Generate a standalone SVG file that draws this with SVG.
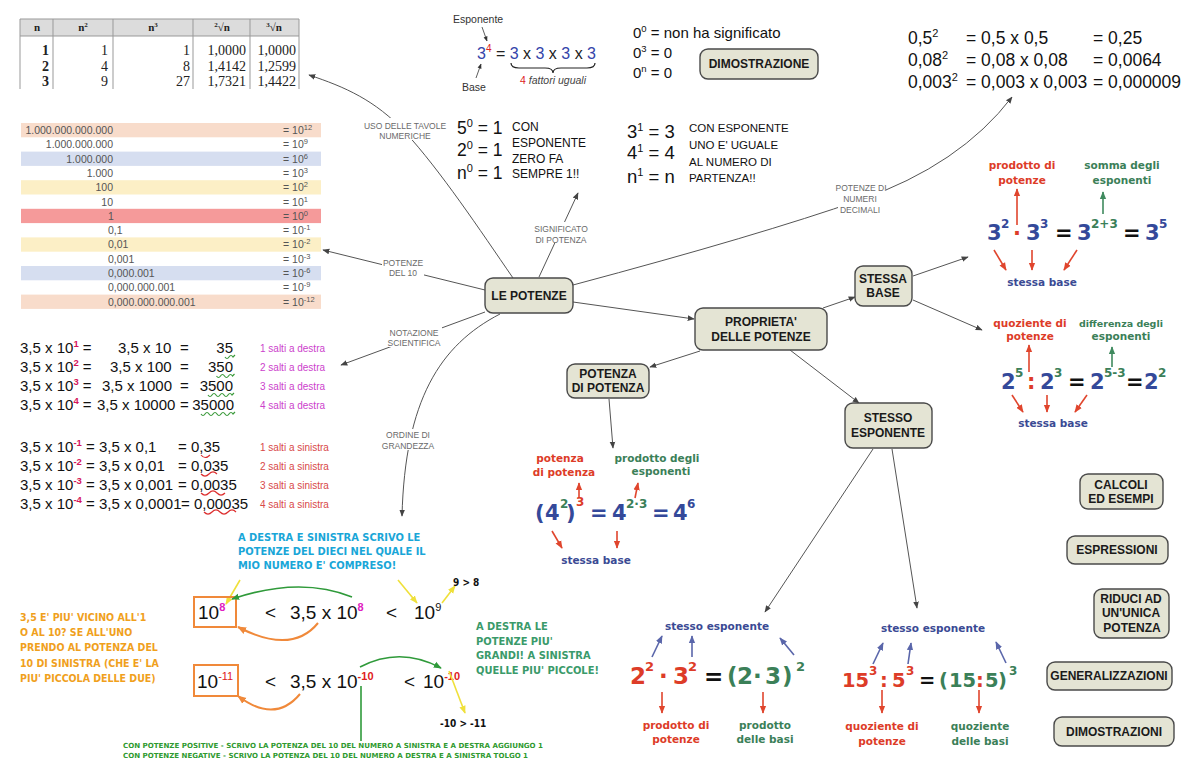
<svg xmlns="http://www.w3.org/2000/svg" width="1200" height="774" viewBox="0 0 1200 774">
<defs>
<style>
.ar{font-family:"Liberation Sans",Arial,sans-serif}
.sf{font-family:"Liberation Serif","Times New Roman",serif}
.vb{font-family:"DejaVu Sans",Verdana,sans-serif;font-weight:bold}
.cm{font-family:"DejaVu Sans Condensed","DejaVu Sans",sans-serif;font-weight:bold}
.node rect{fill:#e4e4d4;stroke:#4a4a4a;stroke-width:1.4}
.node text{font-family:"Liberation Sans",Arial,sans-serif;font-weight:bold;font-size:12px;fill:#1a1a1a;text-anchor:middle}
.con{fill:none;stroke:#555;stroke-width:1}
.lbl{font-family:"Liberation Sans",Arial,sans-serif;font-size:8.5px;fill:#6a6a6a;text-anchor:middle}
.lb{fill:#fff}
.tp{font-family:"Liberation Sans",Arial,sans-serif;font-size:10.5px;fill:#555}
.mid{text-anchor:middle}
.end{text-anchor:end}
.red{fill:#dd3c28}
.grn{fill:#3b8058}
.blu{fill:#3a4a94}
.ra{stroke:#e0452d;stroke-width:1.6;fill:none}
.ga{stroke:#3f8a5e;stroke-width:1.6;fill:none}
.ba{stroke:#5a66aa;stroke-width:1.6;fill:none}
.ya{stroke:#efe03a;stroke-width:1.6;fill:none}
.oa{stroke:#f0893a;stroke-width:2;fill:none}
.gg{stroke:#2f9a3a;stroke-width:1.6;fill:none}
.sq{fill:none;stroke-width:1.2}
</style>
<marker id="ah" viewBox="0 0 10 10" refX="9" refY="5" markerWidth="7" markerHeight="7" markerUnits="userSpaceOnUse" orient="auto"><path d="M0,1 L10,5 L0,9 z" fill="#444"/></marker>
<marker id="ahR" viewBox="0 0 10 10" refX="9" refY="5" markerWidth="8" markerHeight="8" markerUnits="userSpaceOnUse" orient="auto"><path d="M0,1 L10,5 L0,9 z" fill="#e0452d"/></marker>
<marker id="ahG" viewBox="0 0 10 10" refX="9" refY="5" markerWidth="8" markerHeight="8" markerUnits="userSpaceOnUse" orient="auto"><path d="M0,1 L10,5 L0,9 z" fill="#3f8a5e"/></marker>
<marker id="ahB" viewBox="0 0 10 10" refX="9" refY="5" markerWidth="8" markerHeight="8" markerUnits="userSpaceOnUse" orient="auto"><path d="M0,1 L10,5 L0,9 z" fill="#5a66aa"/></marker>
<marker id="ahY" viewBox="0 0 10 10" refX="9" refY="5" markerWidth="8" markerHeight="8" markerUnits="userSpaceOnUse" orient="auto"><path d="M0,1 L10,5 L0,9 z" fill="#efe03a"/></marker>
<marker id="ahO" viewBox="0 0 10 10" refX="9" refY="5" markerWidth="9" markerHeight="9" markerUnits="userSpaceOnUse" orient="auto"><path d="M0,1 L10,5 L0,9 z" fill="#f0893a"/></marker>
<marker id="ahGG" viewBox="0 0 10 10" refX="9" refY="5" markerWidth="8" markerHeight="8" markerUnits="userSpaceOnUse" orient="auto"><path d="M0,1 L10,5 L0,9 z" fill="#2f9a3a"/></marker>
<marker id="ahK" viewBox="0 0 10 10" refX="9" refY="5" markerWidth="5" markerHeight="5" markerUnits="userSpaceOnUse" orient="auto"><path d="M0,1 L10,5 L0,9 z" fill="#333"/></marker>
</defs>
<rect width="1200" height="774" fill="#fff"/>

<!-- numeric table -->
<g id="tavole-numeriche">
<rect x="20" y="19" width="279" height="17" fill="#dcdcdc"/>
<path d="M20,19 H299 M20,36 H299 M20,19 V89 M53,19 V89 M113,19 V89 M193,19 V89 M250,19 V89 M299,19 V89" stroke="#999" stroke-width="1" fill="none"/>
<g class="sf" font-size="11" font-weight="bold" fill="#222" text-anchor="middle">
<text x="37" y="31">n</text>
<text x="83" y="31">n<tspan dy="-4" font-size="7">2</tspan></text>
<text x="153" y="31">n<tspan dy="-4" font-size="7">3</tspan></text>
<text x="222" y="31"><tspan dy="-4" font-size="7">2</tspan><tspan dy="4">√n</tspan></text>
<text x="274" y="31"><tspan dy="-4" font-size="7">3</tspan><tspan dy="4">√n</tspan></text>
</g>
<g class="sf" font-size="14" fill="#222" text-anchor="end">
<text x="49" y="55" font-weight="bold">1</text><text x="108" y="55">1</text><text x="190" y="55">1</text><text x="246" y="55">1,0000</text><text x="296" y="55">1,0000</text>
<text x="49" y="71" font-weight="bold">2</text><text x="108" y="71">4</text><text x="190" y="71">8</text><text x="246" y="71">1,4142</text><text x="296" y="71">1,2599</text>
<text x="49" y="86" font-weight="bold">3</text><text x="108" y="86">9</text><text x="190" y="86">27</text><text x="246" y="86">1,7321</text><text x="296" y="86">1,4422</text>
</g>
</g>

<!-- powers of ten table -->
<g id="potenze-del-10">
<rect x="21" y="123" width="300" height="14.3" fill="#f8dccb"/>
<rect x="21" y="151.6" width="300" height="14.3" fill="#d6def0"/>
<rect x="21" y="180.2" width="300" height="14.3" fill="#fcefc6"/>
<rect x="21" y="208.8" width="300" height="14.3" fill="#f59a9a"/>
<rect x="21" y="237.4" width="300" height="14.3" fill="#fcefc6"/>
<rect x="21" y="266" width="300" height="14.3" fill="#d6def0"/>
<rect x="21" y="294.6" width="300" height="14.3" fill="#f8dccb"/>
<g class="tp">
<text x="113" y="134" class="end">1.000.000.000.000</text>
<text x="113" y="148.3" class="end">1.000.000.000</text>
<text x="113" y="162.6" class="end">1.000.000</text>
<text x="113" y="176.9" class="end">1.000</text>
<text x="113" y="191.2" class="end">100</text>
<text x="113" y="205.5" class="end">10</text>
<text x="108" y="219.8">1</text>
<text x="108" y="234.1">0,1</text>
<text x="108" y="248.4">0,01</text>
<text x="108" y="262.7">0,001</text>
<text x="108" y="277">0,000.001</text>
<text x="108" y="291.3">0,000.000.001</text>
<text x="108" y="305.6">0,000.000.000.001</text>
<text x="283" y="134">= 10<tspan dy="-4" font-size="7.5">12</tspan></text>
<text x="283" y="148.3">= 10<tspan dy="-4" font-size="7.5">9</tspan></text>
<text x="283" y="162.6">= 10<tspan dy="-4" font-size="7.5">6</tspan></text>
<text x="283" y="176.9">= 10<tspan dy="-4" font-size="7.5">3</tspan></text>
<text x="283" y="191.2">= 10<tspan dy="-4" font-size="7.5">2</tspan></text>
<text x="283" y="205.5">= 10<tspan dy="-4" font-size="7.5">1</tspan></text>
<text x="283" y="219.8">= 10<tspan dy="-4" font-size="7.5">0</tspan></text>
<text x="283" y="234.1">= 10<tspan dy="-4" font-size="7.5">-1</tspan></text>
<text x="283" y="248.4">= 10<tspan dy="-4" font-size="7.5">-2</tspan></text>
<text x="283" y="262.7">= 10<tspan dy="-4" font-size="7.5">-3</tspan></text>
<text x="283" y="277">= 10<tspan dy="-4" font-size="7.5">-6</tspan></text>
<text x="283" y="291.3">= 10<tspan dy="-4" font-size="7.5">-9</tspan></text>
<text x="283" y="305.6">= 10<tspan dy="-4" font-size="7.5">-12</tspan></text>
</g>
</g>

<!-- scientific notation -->
<g id="notazione-scientifica" class="ar" font-size="15" fill="#111">
<text x="20" y="353">3,5 x 10<tspan dy="-6" font-size="9.5" fill="#d4145a" font-weight="bold">1</tspan><tspan dy="6"> =</tspan></text>
<text x="118" y="353">3,5 x 10</text><text x="180" y="353">=</text><text x="233" y="353" class="end">35</text>
<text x="20" y="372">3,5 x 10<tspan dy="-6" font-size="9.5" fill="#d4145a" font-weight="bold">2</tspan><tspan dy="6"> =</tspan></text>
<text x="110" y="372">3,5 x 100</text><text x="180" y="372">=</text><text x="233" y="372" class="end">350</text>
<text x="20" y="391">3,5 x 10<tspan dy="-6" font-size="9.5" fill="#d4145a" font-weight="bold">3</tspan><tspan dy="6"> =</tspan></text>
<text x="102" y="391">3,5 x 1000</text><text x="180" y="391">=</text><text x="233" y="391" class="end">3500</text>
<text x="20" y="410">3,5 x 10<tspan dy="-6" font-size="9.5" fill="#d4145a" font-weight="bold">4</tspan><tspan dy="6"> =</tspan></text>
<text x="97" y="410">3,5 x 10000</text>
<text x="180" y="410">=</text><text x="234" y="410" class="end">35000</text>
<path class="sq" stroke="#3a9a3a" d="M225,357 q2,3 4,0 t4,0 l2,-2"/>
<path class="sq" stroke="#3a9a3a" d="M216.5,376 q2,3 4,0 t4,0 t4,0 t4,0 l2,-2"/>
<path class="sq" stroke="#3a9a3a" d="M208,395 q2,3 4,0 t4,0 t4,0 t4,0 t4,0 t4,0 l2,-2"/>
<path class="sq" stroke="#3a9a3a" d="M201,414 q2,3 4,0 t4,0 t4,0 t4,0 t4,0 t4,0 t4,0 t4,0 l2,-2"/>
<g font-size="10" fill="#cc3fcc">
<text x="260" y="352">1 salti a destra</text>
<text x="260" y="371">2 salti a destra</text>
<text x="260" y="390">3 salti a destra</text>
<text x="260" y="409">4 salti a destra</text>
</g>
<text x="20" y="452">3,5 x 10<tspan dy="-6" font-size="9.5" fill="#d4145a" font-weight="bold">-1</tspan><tspan dy="6"> = 3,5 x 0,1</tspan></text>
<text x="178" y="452">= 0,35</text>
<text x="20" y="471">3,5 x 10<tspan dy="-6" font-size="9.5" fill="#d4145a" font-weight="bold">-2</tspan><tspan dy="6"> = 3,5 x 0,01</tspan></text>
<text x="178" y="471">= 0,035</text>
<text x="20" y="490">3,5 x 10<tspan dy="-6" font-size="9.5" fill="#d4145a" font-weight="bold">-3</tspan><tspan dy="6"> = 3,5 x 0,001</tspan></text>
<text x="178" y="490">= 0,0035</text>
<text x="20" y="509">3,5 x 10<tspan dy="-6" font-size="9.5" fill="#d4145a" font-weight="bold">-4</tspan><tspan dy="6"> = 3,5 x 0,0001</tspan></text>
<text x="181" y="509">= 0,00035</text>
<path class="sq" stroke="#dd3030" d="M201,455 q4,5 9,0"/>
<path class="sq" stroke="#dd3030" d="M201,474 q4,4 8,0 t8,0"/>
<path class="sq" stroke="#dd3030" d="M201,493 q4,4 8,0 t8,0 t8,0"/>
<path class="sq" stroke="#dd3030" d="M204,512 q4,4 8,0 t8,0 t8,0 t8,0"/>
<g font-size="10" fill="#d84848">
<text x="260" y="451">1 salti a sinistra</text>
<text x="260" y="470">2 salti a sinistra</text>
<text x="260" y="489">3 salti a sinistra</text>
<text x="260" y="508">4 salti a sinistra</text>
</g>
</g>

<!-- meaning of power -->
<g id="significato" class="ar">
<text x="453" y="23" font-size="10.5" fill="#333">Esponente</text>
<text x="462" y="91" font-size="10.5" fill="#333">Base</text>
<path d="M482,27 L487,41" stroke="#333" stroke-width="0.8" marker-end="url(#ahK)"/>
<path d="M476,78 L481,64" stroke="#333" stroke-width="0.8" marker-end="url(#ahK)"/>
<text x="477" y="59" font-size="16" fill="#3344aa">3<tspan dy="-7" font-size="10" fill="#dd2222">4</tspan><tspan dy="7" fill="#222"> = </tspan>3<tspan fill="#222"> x </tspan>3<tspan fill="#222"> x </tspan>3<tspan fill="#222"> x </tspan>3</text>
<path d="M511,63 Q511,68 519,68 L545,68 Q553,68 553,73 Q553,68 561,68 L587,68 Q595,68 595,63" stroke="#222" stroke-width="1.2" fill="none"/>
<text x="553" y="84" font-size="10.5" class="mid" fill="#444"><tspan fill="#dd2222">4</tspan> <tspan font-style="italic">fattori uguali</tspan></text>
<text x="633" y="38" font-size="15" fill="#111">0<tspan dy="-6" font-size="9.5">0</tspan><tspan dy="6"> = non ha significato</tspan></text>
<text x="633" y="58" font-size="15" fill="#111">0<tspan dy="-6" font-size="9.5">3</tspan><tspan dy="6"> = 0</tspan></text>
<text x="633" y="78" font-size="15" fill="#111">0<tspan dy="-6" font-size="9.5">n</tspan><tspan dy="6"> = 0</tspan></text>
</g>
<g id="dimostrazione" class="node"><rect x="700" y="49" width="118" height="30" rx="8"/><text x="759" y="68" font-size="11.5px">DIMOSTRAZIONE</text></g>

<g id="esponente-zero" class="ar" fill="#111">
<text x="457" y="134" font-size="17.5">5<tspan dy="-7" font-size="11">0</tspan><tspan dy="7"> = 1</tspan></text>
<text x="457" y="156" font-size="17.5">2<tspan dy="-7" font-size="11">0</tspan><tspan dy="7"> = 1</tspan></text>
<text x="457" y="179" font-size="17.5">n<tspan dy="-7" font-size="11">0</tspan><tspan dy="7"> = 1</tspan></text>
<g font-size="12"><text x="512" y="131">CON</text><text x="512" y="147">ESPONENTE</text><text x="512" y="163">ZERO FA</text><text x="512" y="178">SEMPRE 1!!</text></g>
</g>
<g id="esponente-uno" class="ar" fill="#111">
<text x="627" y="138" font-size="18.5">3<tspan dy="-7" font-size="11">1</tspan><tspan dy="7"> = 3</tspan></text>
<text x="627" y="159" font-size="18.5">4<tspan dy="-7" font-size="11">1</tspan><tspan dy="7"> = 4</tspan></text>
<text x="627" y="183" font-size="18.5">n<tspan dy="-7" font-size="11">1</tspan><tspan dy="7"> = n</tspan></text>
<g font-size="11.5"><text x="689" y="132">CON ESPONENTE</text><text x="689" y="149">UNO E' UGUALE</text><text x="689" y="166">AL NUMERO DI</text><text x="689" y="182">PARTENZA!!</text></g>
</g>

<g id="decimali" class="ar" font-size="17.5" fill="#111">
<text x="908" y="44">0,5<tspan dy="-7" font-size="11">2</tspan></text><text x="966" y="44">= 0,5 x 0,5</text><text x="1093" y="44">= 0,25</text>
<text x="908" y="66">0,08<tspan dy="-7" font-size="11">2</tspan></text><text x="966" y="66">= 0,08 x 0,08</text><text x="1093" y="66">= 0,0064</text>
<text x="908" y="88">0,003<tspan dy="-7" font-size="11">2</tspan></text><text x="966" y="88">= 0,003 x 0,003</text><text x="1093" y="88">= 0,000009</text>
</g>

<!-- connectors -->
<g id="connectors">
<path class="con" d="M513,278 C480,230 440,170 405,132 C375,100 345,87 309,75" marker-end="url(#ah)"/>
<path class="con" d="M485,290 L323,250" marker-end="url(#ah)"/>
<path class="con" d="M485,312 L341,365" marker-end="url(#ah)"/>
<path class="con" d="M500,314 C440,345 405,400 402,516" marker-end="url(#ah)"/>
<path class="con" d="M539,277 L578,193" marker-end="url(#ah)"/>
<path class="con" d="M573,285 Q760,235 860,200 Q960,165 1012,97" marker-end="url(#ah)"/>
<path class="con" d="M573,302 L694,319" marker-end="url(#ah)"/>
<path class="con" d="M823,308 L855,297" marker-end="url(#ah)"/>
<path class="con" d="M700,351 L650,367" marker-end="url(#ah)"/>
<path class="con" d="M790,350 L859,403" marker-end="url(#ah)"/>
<path class="con" d="M609,399 L613,448" marker-end="url(#ah)"/>
<path class="con" d="M913,276 L968,257" marker-end="url(#ah)"/>
<path class="con" d="M913,300 L982,330" marker-end="url(#ah)"/>
<path class="con" d="M873,449 L765,612" marker-end="url(#ah)"/>
<path class="con" d="M892,449 L917,608" marker-end="url(#ah)"/>
<rect class="lb" x="362" y="118" width="86" height="22"/>
<text class="lbl" x="405" y="129">USO DELLE TAVOLE</text><text class="lbl" x="405" y="139">NUMERICHE</text>
<rect class="lb" x="382" y="256" width="42" height="21"/>
<text class="lbl" x="403" y="266">POTENZE</text><text class="lbl" x="403" y="276">DEL 10</text>
<rect class="lb" x="386" y="326" width="56" height="21"/>
<text class="lbl" x="414" y="336">NOTAZIONE</text><text class="lbl" x="414" y="346">SCIENTIFICA</text>
<rect class="lb" x="382" y="429" width="52" height="21"/>
<text class="lbl" x="408" y="438">ORDINE DI</text><text class="lbl" x="408" y="449">GRANDEZZA</text>
<rect class="lb" x="533" y="222" width="56" height="21"/>
<text class="lbl" x="561" y="232">SIGNIFICATO</text><text class="lbl" x="561" y="243">DI POTENZA</text>
<rect class="lb" x="838" y="185" width="48" height="30"/>
<text class="lbl" x="861" y="191">POTENZE DI</text><text class="lbl" x="860" y="202">NUMERI</text><text class="lbl" x="860" y="213">DECIMALI</text>
</g>

<!-- nodes -->
<g id="le-potenze" class="node"><rect x="485" y="278" width="88" height="35" rx="8"/><text x="529" y="300">LE POTENZE</text></g>
<g id="proprieta" class="node"><rect x="695" y="308" width="132" height="42" rx="8"/><text x="761" y="326">PROPRIETA'</text><text x="761" y="341">DELLE POTENZE</text></g>
<g id="stessa-base" class="node"><rect x="855" y="266" width="57" height="40" rx="8"/><text x="883" y="283">STESSA</text><text x="883" y="297">BASE</text></g>
<g id="potenza-di-potenza" class="node"><rect x="567" y="364" width="82" height="34" rx="8"/><text x="608" y="378">POTENZA</text><text x="608" y="392">DI POTENZA</text></g>
<g id="stesso-esponente" class="node"><rect x="845" y="403" width="87" height="45" rx="8"/><text x="888" y="422">STESSO</text><text x="888" y="437">ESPONENTE</text></g>
<g id="calcoli" class="node"><rect x="1080" y="474" width="83" height="35" rx="8"/><text x="1121" y="489">CALCOLI</text><text x="1121" y="503">ED ESEMPI</text></g>
<g id="espressioni" class="node"><rect x="1067" y="536" width="101" height="28" rx="8"/><text x="1117" y="554">ESPRESSIONI</text></g>
<g id="riduci" class="node"><rect x="1094" y="589" width="75" height="49" rx="8"/><text x="1131" y="603">RIDUCI AD</text><text x="1131" y="617">UN'UNICA</text><text x="1132" y="632">POTENZA</text></g>
<g id="generalizzazioni" class="node"><rect x="1047" y="662" width="125" height="28" rx="8"/><text x="1109" y="680">GENERALIZZAZIONI</text></g>
<g id="dimostrazioni" class="node"><rect x="1054" y="717" width="120" height="29" rx="8"/><text x="1114" y="736">DIMOSTRAZIONI</text></g>

<!-- stessa base: prodotto -->
<g id="prodotto-stessa-base" class="vb">
<g font-size="10.5" text-anchor="middle">
<text x="1022" y="169" class="red">prodotto di</text><text x="1022" y="184" class="red">potenze</text>
<text x="1122" y="169" class="grn">somma degli</text><text x="1122" y="184" class="grn">esponenti</text>
<text x="1042" y="286" class="blu">stessa base</text>
</g>
<path class="ra" d="M1017,225 L1017,189" marker-end="url(#ahR)"/>
<path class="ga" d="M1103,214 L1103,192" marker-end="url(#ahG)"/>
<path class="ra" d="M994,250 L1006,270" marker-end="url(#ahR)"/>
<path class="ra" d="M1032,250 L1032,270" marker-end="url(#ahR)"/>
<path class="ra" d="M1077,250 L1064,270" marker-end="url(#ahR)"/>
<text font-size="21" fill="#34499a">
<tspan x="987" y="240">3</tspan><tspan x="1001" y="228" font-size="12">2</tspan>
<tspan x="1013" y="240" fill="#dd3c28">·</tspan>
<tspan x="1026" y="240">3</tspan><tspan x="1040" y="228" font-size="12">3</tspan>
<tspan x="1055" y="240" fill="#111">=</tspan>
<tspan x="1077" y="240">3</tspan><tspan x="1091" y="228" font-size="12" fill="#3b8058">2+3</tspan>
<tspan x="1123" y="240" fill="#111">=</tspan>
<tspan x="1145" y="240">3</tspan><tspan x="1159" y="228" font-size="12">5</tspan>
</text>
</g>

<!-- stessa base: quoziente -->
<g id="quoziente-stessa-base" class="vb">
<g font-size="10.5" text-anchor="middle">
<text x="1030" y="327" class="red">quoziente di</text><text x="1030" y="340" class="red">potenze</text>
<text x="1121" y="327" class="grn" font-size="9.5">differenza degli</text><text x="1121" y="340" class="grn">esponenti</text>
<text x="1053" y="427" class="blu">stessa base</text>
</g>
<path class="ra" d="M1029,372 L1029,345" marker-end="url(#ahR)"/>
<path class="ga" d="M1112,367 L1112,347" marker-end="url(#ahG)"/>
<path class="ra" d="M1012,395 L1023,412" marker-end="url(#ahR)"/>
<path class="ra" d="M1047,395 L1047,412" marker-end="url(#ahR)"/>
<path class="ra" d="M1087,395 L1075,412" marker-end="url(#ahR)"/>
<text font-size="21" fill="#34499a">
<tspan x="1001" y="389">2</tspan><tspan x="1015" y="377" font-size="12" fill="#3b8058">5</tspan>
<tspan x="1027" y="389" fill="#dd3c28">:</tspan>
<tspan x="1040" y="389">2</tspan><tspan x="1054" y="377" font-size="12" fill="#3b8058">3</tspan>
<tspan x="1068" y="389" fill="#111">=</tspan>
<tspan x="1090" y="389">2</tspan><tspan x="1104" y="377" font-size="12" fill="#3b8058">5-3</tspan>
<tspan x="1126" y="389" fill="#111">=</tspan>
<tspan x="1144" y="389">2</tspan><tspan x="1158" y="377" font-size="12" fill="#3b8058">2</tspan>
</text>
</g>

<!-- potenza di potenza -->
<g id="formula-potenza-di-potenza" class="vb">
<g font-size="10.5" text-anchor="middle">
<text x="560" y="462" class="red">potenza</text><text x="564" y="476" class="red">di potenza</text>
<text x="657" y="462" class="grn">prodotto degli</text><text x="661" y="475" class="grn">esponenti</text>
<text x="596" y="564" class="blu">stessa base</text>
</g>
<path class="ra" d="M579,498 L579,483" marker-end="url(#ahR)"/>
<path class="ra" d="M635,498 L638,483" marker-end="url(#ahR)"/>
<path class="ra" d="M552,531 L562,548" marker-end="url(#ahR)"/>
<path class="ra" d="M617,531 L617,548" marker-end="url(#ahR)"/>
<text font-size="21" fill="#34499a">
<tspan x="535" y="520">(</tspan><tspan x="545" y="520">4</tspan><tspan x="560" y="508" font-size="12" fill="#3b8058">2</tspan>
<tspan x="566" y="520">)</tspan><tspan x="576" y="506" font-size="12" fill="#dd3c28">3</tspan>
<tspan x="590" y="520">=</tspan>
<tspan x="612" y="520">4</tspan><tspan x="626" y="508" font-size="12" fill="#3b8058">2·3</tspan>
<tspan x="652" y="520">=</tspan>
<tspan x="673" y="520">4</tspan><tspan x="687" y="508" font-size="12">6</tspan>
</text>
</g>

<!-- stesso esponente: prodotto -->
<g id="prodotto-stesso-esponente" class="vb">
<g font-size="10.5" text-anchor="middle">
<text x="717" y="630" class="blu">stesso esponente</text>
<text x="676" y="729" class="red">prodotto di</text><text x="676" y="743" class="red">potenze</text>
<text x="765" y="729" class="grn">prodotto</text><text x="765" y="743" class="grn">delle basi</text>
</g>
<path class="ba" d="M652,657 L662,636" marker-end="url(#ahB)"/>
<path class="ba" d="M692,657 L692,636" marker-end="url(#ahB)"/>
<path class="ba" d="M794,655 L780,638" marker-end="url(#ahB)"/>
<path class="ra" d="M662,692 L662,713" marker-end="url(#ahR)"/>
<path class="ra" d="M763,692 L763,713" marker-end="url(#ahR)"/>
<text font-size="23" fill="#dd3c28">
<tspan x="630" y="684">2</tspan><tspan x="645" y="671" font-size="13">2</tspan>
<tspan x="659" y="684">·</tspan>
<tspan x="673" y="684">3</tspan><tspan x="688" y="671" font-size="13">2</tspan>
<tspan x="704" y="684" fill="#111">=</tspan>
<tspan x="727" y="684" fill="#3b8058">(</tspan><tspan x="737" y="684" fill="#3b8058">2</tspan>
<tspan x="753" y="684" fill="#3b8058">·</tspan><tspan x="765" y="684" fill="#3b8058">3</tspan>
<tspan x="782" y="684" fill="#3b8058">)</tspan><tspan x="796" y="671" font-size="13" fill="#3b8058">2</tspan>
</text>
</g>

<!-- stesso esponente: quoziente -->
<g id="quoziente-stesso-esponente" class="vb">
<g font-size="10.5" text-anchor="middle">
<text x="933" y="632" class="blu">stesso esponente</text>
<text x="882" y="730" class="red">quoziente di</text><text x="882" y="745" class="red">potenze</text>
<text x="980" y="730" class="grn">quoziente</text><text x="980" y="745" class="grn">delle basi</text>
</g>
<path class="ba" d="M873,664 L883,643" marker-end="url(#ahB)"/>
<path class="ba" d="M908,664 L911,643" marker-end="url(#ahB)"/>
<path class="ba" d="M1006,663 L996,642" marker-end="url(#ahB)"/>
<path class="ra" d="M882,690 L882,713" marker-end="url(#ahR)"/>
<path class="ra" d="M979,690 L979,713" marker-end="url(#ahR)"/>
<text font-size="19.5" fill="#dd3c28">
<tspan x="842" y="687">15</tspan><tspan x="869" y="675" font-size="12">3</tspan>
<tspan x="880" y="687">:</tspan>
<tspan x="892" y="687">5</tspan><tspan x="906" y="675" font-size="12">3</tspan>
<tspan x="919" y="687" fill="#111">=</tspan>
<tspan x="939" y="687" fill="#3b8058">(</tspan><tspan x="949" y="687" fill="#3b8058">15</tspan>
<tspan x="976" y="687">:</tspan><tspan x="985" y="687" fill="#3b8058">5</tspan>
<tspan x="998" y="687" fill="#3b8058">)</tspan><tspan x="1009" y="675" font-size="12" fill="#3b8058">3</tspan>
</text>
</g>

<!-- ordine di grandezza -->
<g id="ordine-di-grandezza">
<g class="cm" font-size="11" fill="#19a6d8">
<text x="238" y="541">A DESTRA E SINISTRA SCRIVO LE</text>
<text x="238" y="555">POTENZE DEL DIECI NEL QUALE IL</text>
<text x="238" y="569">MIO NUMERO E' COMPRESO!</text>
</g>
<path class="ya" d="M240,580 L226,604" marker-end="url(#ahY)"/>
<path class="ya" d="M398,580 L417,603" marker-end="url(#ahY)"/>
<path class="ya" d="M442,603 L455,586" marker-end="url(#ahY)"/>
<text x="453" y="586" class="cm" font-size="10" fill="#111">9 &gt; 8</text>
<rect x="194" y="597" width="42" height="30" fill="none" stroke="#f0893a" stroke-width="2"/>
<rect x="194" y="665" width="44" height="31" fill="none" stroke="#f0893a" stroke-width="2"/>
<g class="ar" font-size="19" fill="#111">
<text x="198" y="619">10<tspan dy="-8" font-size="11" fill="#e020c0" font-weight="bold">8</tspan></text>
<text x="265" y="619">&lt;</text>
<text x="290" y="619">3,5 x 10<tspan dy="-8" font-size="11" fill="#e020c0" font-weight="bold">8</tspan></text>
<text x="386" y="619">&lt;</text>
<text x="414" y="619">10<tspan dy="-8" font-size="11">9</tspan></text>
<text x="197" y="688">10<tspan dy="-8" font-size="11" fill="#e02020">-11</tspan></text>
<text x="265" y="688">&lt;</text>
<text x="290" y="688">3,5 x 10<tspan dy="-8" font-size="11" fill="#e02020" font-weight="bold">-10</tspan></text>
<text x="404" y="688">&lt;</text>
<text x="423" y="688">10<tspan dy="-8" font-size="11" fill="#e02020" font-weight="bold">-10</tspan></text>
</g>
<path class="gg" d="M352,597 Q300,576 232,599" marker-end="url(#ahGG)"/>
<path class="oa" d="M318,623 Q292,655 238,627" marker-end="url(#ahO)"/>
<path class="gg" d="M360,667 Q400,646 441,668" marker-end="url(#ahGG)"/>
<path class="oa" d="M300,694 Q275,724 238,696" marker-end="url(#ahO)"/>
<path class="gg" d="M361,686 L361,741"/>
<path class="ya" d="M449,671 L465,713" marker-end="url(#ahY)"/>
<text x="440" y="727" class="cm" font-size="10" fill="#111">-10 &gt; -11</text>
<g class="cm" font-size="10.5" fill="#f0a01c">
<text x="20" y="621">3,5 E' PIU' VICINO ALL'1</text>
<text x="20" y="636">O AL 10? SE ALL'UNO</text>
<text x="20" y="651">PRENDO AL POTENZA DEL</text>
<text x="20" y="667">10 DI SINISTRA (CHE E' LA</text>
<text x="20" y="682">PIU' PICCOLA DELLE DUE)</text>
</g>
<g class="cm" font-size="11" fill="#3a9a6a">
<text x="476" y="630">A DESTRA LE</text>
<text x="476" y="645">POTENZE PIU'</text>
<text x="476" y="659">GRANDI! A SINISTRA</text>
<text x="476" y="674">QUELLE PIU' PICCOLE!</text>
</g>
<g class="cm" font-size="7" fill="#2f9a2f">
<text x="123" y="748" textLength="420" lengthAdjust="spacingAndGlyphs">CON POTENZE POSITIVE - SCRIVO LA POTENZA DEL 10 DEL NUMERO A SINISTRA E A DESTRA AGGIUNGO 1</text>
<text x="123" y="758" textLength="405" lengthAdjust="spacingAndGlyphs">CON POTENZE NEGATIVE - SCRIVO LA POTENZA DEL 10 DEL NUMERO A DESTRA E A SINISTRA TOLGO 1</text>
</g>
</g>
</svg>
